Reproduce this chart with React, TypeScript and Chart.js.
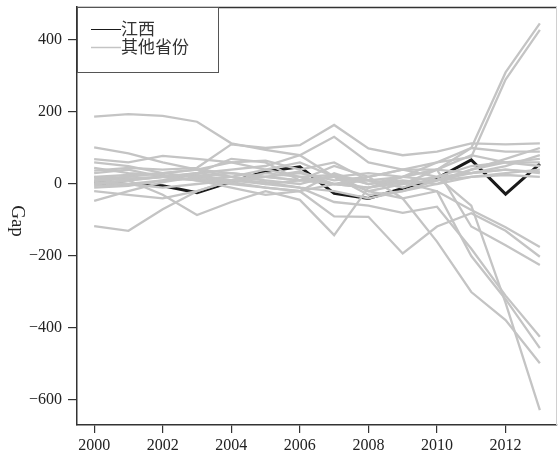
import React, { useEffect, useRef } from "react";
import { Chart, registerables } from "chart.js";

Chart.register(...registerables);

const years = [2000, 2001, 2002, 2003, 2004, 2005, 2006, 2007, 2008, 2009, 2010, 2011, 2012, 2013];
const xTickValues = [2000, 2002, 2004, 2006, 2008, 2010, 2012];
const yTickValues = [-600, -400, -200, 0, 200, 400];

const jiangxi = [4, -1, -5, -24, 6, 35, 48, -26, -40, -12, 16, 67, -28, 56];

const g01 = [187, 194, 189, 173, 113, 95, 80, 131, 60, 40, 60, 100, 90, 90];
const g02 = [102, 85, 60, 40, 30, 20, 10, 0, 20, 40, 40, 100, 310, 446];
const g03 = [69, 60, 78, 70, 60, 40, 20, 25, 0, 20, 60, 75, 290, 428];
const g04 = [37, 45, 40, 45, 110, 100, 108, 164, 99, 80, 90, 113, 110, 113];
const g05 = [-117, -130, -70, -20, 10, 20, 35, 0, -10, 5, 20, 50, 60, 60];
const g06 = [-47, -20, 5, 20, 30, 20, 10, 50, 20, -40, -160, -300, -378, -498];
const g07 = [20, 10, -30, -86, -50, -20, -44, -142, -10, 20, 40, 30, 40, 33];
const g08 = [10, 15, 20, 10, 0, -10, -20, -90, -91, -193, -118, -81, -130, -202];
const g09 = [0, 10, 20, 30, 20, 0, -10, -50, -60, -80, -63, -180, -310, -424];
const g10 = [15, 20, 30, 40, 20, 10, 0, 25, -20, -40, -20, -200, -320, -456];
const g11 = [5, 0, -10, 0, 10, 20, 30, 10, 20, 40, 20, -60, -330, -628];
const g12 = [60, 50, 30, 20, 10, 30, 20, 0, -10, 5, -20, -72, -120, -175];
const g13 = [30, 40, 20, 10, -10, -30, -20, 0, 10, 20, 40, -118, -170, -225];
const g14 = [0, 10, 20, 30, 40, 50, 80, 20, 10, 0, 40, 80, 60, 50];
const g15 = [-10, -5, 10, 15, 5, -10, -20, 30, 0, 10, 0, 20, 30, 40];
const g16 = [20, 25, 30, 40, 60, 65, 40, 60, 10, -10, 20, 30, 40, 30];
const g17 = [-5, 0, 10, 30, 70, 60, 10, 20, -20, 0, 10, 20, 25, 20];
const g18 = [8, 15, 20, 25, 10, 0, 10, 20, 30, 20, 10, 40, 60, 70];
const g19 = [-20, -30, -40, -20, 10, 5, -10, -20, -40, -20, 10, 30, 50, 80];
const g20 = [45, 30, 25, 10, 20, 40, 60, 20, -30, -20, 0, 40, 70, 100];

const otherProvinces = [g01, g02, g03, g04, g05, g06, g07, g08, g09, g10, g11, g12, g13, g14, g15, g16, g17, g18, g19, g20];

const legendLabels = ["江西", "其他省份"];
const yAxisTitle = "Gap";

const BLACK = "#1a1a1a";
const GRAY = "#c4c4c4";
const AXIS = "#333333";
const SERIF = '"Liberation Serif", "DejaVu Serif", serif';
const CJK = '"Noto Sans CJK SC", "Noto Sans", sans-serif';

const toPoints = (vals: number[]) => vals.map((v, i) => ({ x: years[i], y: v }));

const decorPlugin = {
  id: "decor",
  afterDraw(chart: any) {
    const { ctx, chartArea: a } = chart;
    ctx.save();
    // top border
    ctx.strokeStyle = AXIS;
    ctx.lineWidth = 1.5;
    ctx.beginPath();
    ctx.moveTo(a.left, a.top + 0.5);
    ctx.lineTo(a.right, a.top + 0.5);
    ctx.stroke();
    // right border (light)
    ctx.strokeStyle = "#d0d0d0";
    ctx.lineWidth = 1;
    ctx.beginPath();
    ctx.moveTo(a.right - 0.5, a.top);
    ctx.lineTo(a.right - 0.5, a.bottom);
    ctx.stroke();

    // legend box
    const bx = a.left, by = a.top, bw = 141, bh = 65;
    ctx.fillStyle = "#ffffff";
    ctx.fillRect(bx, by, bw, bh);
    ctx.strokeStyle = "#555555";
    ctx.lineWidth = 1;
    ctx.strokeRect(bx + 0.5, by + 0.5, bw, bh);

    const rows = [
      { y: by + 22, color: BLACK, w: 1, label: legendLabels[0] },
      { y: by + 40, color: GRAY, w: 1.5, label: legendLabels[1] },
    ];
    ctx.font = `17px ${CJK}`;
    ctx.textBaseline = "middle";
    ctx.textAlign = "left";
    rows.forEach((r) => {
      ctx.strokeStyle = r.color;
      ctx.lineWidth = r.w;
      ctx.beginPath();
      ctx.moveTo(bx + 14, r.y + 0.5);
      ctx.lineTo(bx + 44, r.y + 0.5);
      ctx.stroke();
      ctx.fillStyle = "#333333";
      ctx.fillText(r.label, bx + 44, r.y);
    });

    // y axis title rotated clockwise
    ctx.translate(17, 221);
    ctx.rotate(Math.PI / 2);
    ctx.font = `19px ${SERIF}`;
    ctx.fillStyle = "#222222";
    ctx.textAlign = "center";
    ctx.textBaseline = "middle";
    ctx.fillText(yAxisTitle, 0, 0);
    ctx.restore();
  },
};

export default function App() {
  const ref = useRef<HTMLCanvasElement | null>(null);

  useEffect(() => {
    const canvas = ref.current;
    if (!canvas) return;
    const datasets: any[] = [
      {
        label: legendLabels[0],
        data: toPoints(jiangxi),
        borderColor: BLACK,
        borderWidth: 3,
        pointRadius: 0,
        tension: 0,
        order: 1,
      },
      ...otherProvinces.map((vals, i) => ({
        label: `${legendLabels[1]} ${i + 1}`,
        data: toPoints(vals),
        borderColor: GRAY,
        borderWidth: 2.3,
        pointRadius: 0,
        tension: 0,
        order: 0,
      })),
    ];

    const chart = new Chart(canvas, {
      type: "line",
      data: { datasets },
      plugins: [decorPlugin],
      options: {
        animation: false,
        responsive: false,
        devicePixelRatio: 1,
        layout: { padding: { top: 7, right: 1, left: 0, bottom: 0 } },
        plugins: { legend: { display: false }, tooltip: { enabled: false } },
        scales: {
          x: {
            type: "linear",
            min: 1999.5,
            max: 2013.5,
            afterFit: (s: any) => {
              s.height = 31;
              s.paddingLeft = 0;
              s.paddingRight = 0;
            },
            afterBuildTicks: (s: any) => {
              s.ticks = xTickValues.map((v) => ({ value: v }));
            },
            grid: { drawOnChartArea: false, drawTicks: true, tickLength: 8, color: AXIS, lineWidth: 1.2 },
            border: { display: true, color: AXIS, width: 1.5 },
            ticks: {
              padding: 3,
              color: "#222222",
              font: { family: SERIF, size: 16 },
              maxRotation: 0,
              callback: (v: any) => String(v),
            },
          },
          y: {
            type: "linear",
            min: -669.4,
            max: 491.7,
            afterFit: (s: any) => {
              s.width = 77;
              s.paddingTop = 0;
              s.paddingBottom = 0;
            },
            afterBuildTicks: (s: any) => {
              s.ticks = yTickValues.map((v) => ({ value: v }));
            },
            grid: { drawOnChartArea: false, drawTicks: true, tickLength: 9, color: AXIS, lineWidth: 1.2 },
            border: { display: true, color: AXIS, width: 1.5 },
            ticks: {
              padding: 6,
              color: "#222222",
              font: { family: SERIF, size: 16 },
              callback: (v: any) => (Number(v) < 0 ? "\u2212" + Math.abs(Number(v)) : String(v)),
            },
          },
        },
      } as any,
    });
    return () => chart.destroy();
  }, []);

  return (
    <div style={{ position: "fixed", left: 0, top: 0, width: 558, height: 456, background: "#fff" }}>
      <canvas ref={ref} width={558} height={456} style={{ display: "block" }} />
    </div>
  );
}
